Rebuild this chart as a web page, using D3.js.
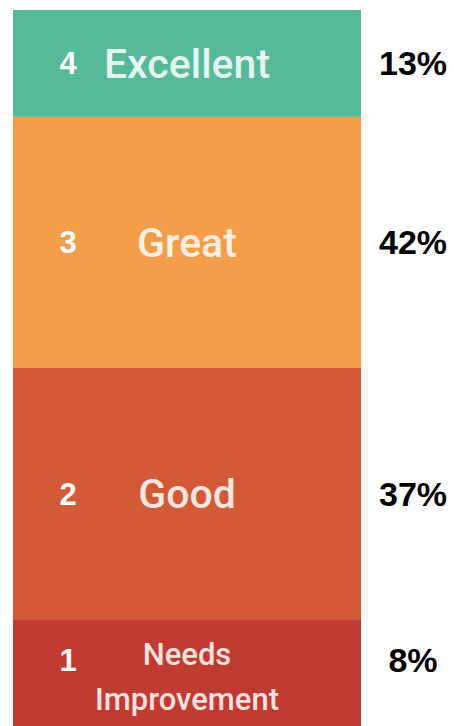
<!DOCTYPE html>
<html>
<head>
<meta charset="utf-8">
<script src="https://cdn.jsdelivr.net/npm/d3@7"></script>
<style>
  html, body { margin: 0; padding: 0; background: #fff; }
  svg { display: block; }
</style>
</head>
<body>
<div id="chart"></div>
<script>
// data, top row first
var scores = [4, 3, 2, 1]
var ratings = ["Excellent", "Great", "Good", "Needs Improvement"]
var ratingLines = [["Excellent"], ["Great"], ["Good"], ["Needs", "Improvement"]]
var shares = [13, 42, 37, 8]

// layout: rows are not drawn to share, the small ones get a short band
var rowWeight = [1, 2.35, 2.35, 1]
var colors = ["#55b99a", "#f29e4b", "#d35a37", "#c03c32"]

var W = 454, H = 726
var svg = d3.select('#chart').append('svg')
  .attr('width', W).attr('height', H)

var rows = ratings.map(function(r, i){
  return {score: scores[i], rating: r, lines: ratingLines[i], share: shares[i], w: rowWeight[i], color: colors[i]}
})
var acc = 0
rows.forEach(function(d){ d.y0 = acc; acc += d.w; d.y1 = acc })

var y = d3.scaleLinear().domain([0, acc]).range([10, H])
var x = d3.scaleLinear().domain([0, 1]).range([13, 361]) // bar spans the whole x domain

var g = svg.selectAll('g.row').data(rows).enter().append('g').attr('class', 'row')

g.append('rect')
  .attr('x', x(0))
  .attr('width', x(1) - x(0))
  .attr('y', function(d){ return y(d.y0) })
  .attr('height', function(d){ return y(d.y1) - y(d.y0) })
  .attr('fill', function(d){ return d.color })

function mid(d){ return (y(d.y0) + y(d.y1)) / 2 }
function anchorY(d){ return mid(d) - (d.lines.length - 1) * 13 }

// score number
g.append('text')
  .attr('x', 68)
  .attr('y', function(d){ return anchorY(d) + 11 })
  .attr('text-anchor', 'middle')
  .style('font-family', '"Liberation Sans", Arial, sans-serif')
  .style('font-weight', 'bold')
  .style('font-size', '31px')
  .attr('fill', '#fff')
  .text(function(d){ return d.score })

// rating label
g.each(function(d){
  var n = d.lines.length
  var fs = n > 1 ? 31 : 41
  var lh = 45
  d3.select(this).selectAll('text.lab').data(d.lines).enter().append('text')
    .attr('class', 'lab')
    .attr('x', 187)
    .attr('y', function(t, i){ return mid(d) + fs * 0.36 + (i - (n - 1) / 2) * lh + (n > 1 ? 4 : 0) })
    .attr('text-anchor', 'middle')
    .style('font-family', 'Roboto, sans-serif')
    .style('font-weight', 500)
    .style('font-size', fs + 'px')
    .attr('fill', '#fff')
    .attr('fill-opacity', 0.85)
    .text(function(t){ return t })
})

// share
g.append('text')
  .attr('x', 413)
  .attr('y', function(d){ return anchorY(d) + 12 })
  .attr('text-anchor', 'middle')
  .style('font-family', '"Liberation Sans", Arial, sans-serif')
  .style('font-weight', 'bold')
  .style('font-size', '34px')
  .attr('fill', '#000')
  .text(function(d){ return d.share + '%' })
</script>
</body>
</html>
